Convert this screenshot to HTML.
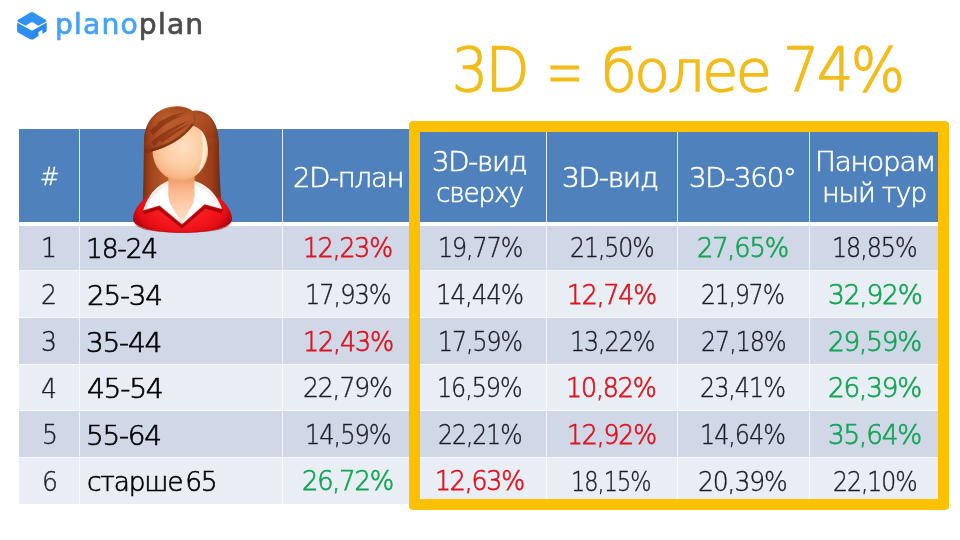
<!DOCTYPE html>
<html lang="ru">
<head>
<meta charset="utf-8">
<title>planoplan — 3D = более 74%</title>
<style>
html,body{margin:0;padding:0;background:#fff;}
body{width:960px;height:540px;position:relative;overflow:hidden;font-family:"DejaVu Sans Light", "DejaVu Sans", "Liberation Sans", sans-serif;font-weight:200;}
.abs{position:absolute;}
.cell{position:absolute;}
.h{background:#4f81bd;}
.r1{background:#d0d8e8;}
.r2{background:#e9edf4;}
.ln{background:#fff;}
.tx{position:absolute;white-space:nowrap;transform-origin:0 0;font-family:"DejaVu Sans Light", "DejaVu Sans", "Liberation Sans", sans-serif;font-weight:200;line-height:1;margin:0;}
#frame{position:absolute;left:409px;top:121px;width:540px;height:389px;box-sizing:border-box;border:11px solid #ffc000;border-radius:4px;}
</style>
</head>
<body>
<svg class="abs" style="left:0;top:0" width="220" height="50" viewBox="0 0 220 50">
  <g>
    <!-- top face -->
    <path d="M30.3 12.5 Q31.9 11.6 33.5 12.5 L45.7 19.7 Q47.2 20.8 45.7 21.9 L38.3 25.8 L33.2 22.6 Q32 21.9 30.8 22.6 L25.7 25.8 L18.1 21.9 Q16.6 20.8 18.1 19.7 Z" fill="#2f92f2"/>
    <!-- left face -->
    <path d="M17.1 22.5 L32 30.7 L32 39.6 Q31 39.7 30 39.2 L18.1 32.6 Q17.1 32 17.1 30.8 Z" fill="#2e8eee"/>
    <!-- right face -->
    <path d="M31.9 30.7 L46.7 22.5 L46.7 30.6 Q46.7 31.4 46 31.8 L42.3 33.8 L42.3 29.8 L38.5 31.9 L38.5 35.9 L33.8 38.9 Q32.6 39.6 31.9 39.6 Z" fill="#2b89ea"/>
  </g>
  <text x="55" y="34.2" font-family="'DejaVu Sans', 'Liberation Sans', sans-serif" font-weight="400" font-size="28.2" fill="#45a3f5" stroke="#45a3f5" stroke-width="0.7" letter-spacing="1.15">plano<tspan fill="#4b4b4b" stroke="#4b4b4b">plan</tspan></text>
</svg>
<h1 id="title" style="margin:0;font-weight:200">
<span class="tx" style="left:451.50px;top:41.04px;font-size:59.7px;color:#f2bc1c;transform:scaleX(0.9500);-webkit-text-stroke:1.5px #f2bc1c;letter-spacing:-2.5px;">3D</span>
<span class="tx" style="left:546.18px;top:34.10px;font-size:76px;color:#f2bc1c;transform:scaleX(0.5910);-webkit-text-stroke:0.9px #f2bc1c;">=</span>
<span class="tx" style="left:601.27px;top:42.91px;font-size:57.5px;color:#f2bc1c;transform:scaleX(1.0166);-webkit-text-stroke:1.5px #f2bc1c;letter-spacing:-2.5px;">более</span>
<span class="tx" style="left:783.49px;top:41.04px;font-size:59.7px;color:#f2bc1c;transform:scaleX(0.9560);-webkit-text-stroke:1.5px #f2bc1c;letter-spacing:-2.5px;">74%</span>
</h1>
<div id="table-bg">
<div class="cell h" style="left:19.3px;top:129px;width:921.7px;height:93px"></div>
<div class="cell r1" style="left:19.3px;top:226px;width:921.7px;height:44.5px"></div>
<div class="cell r2" style="left:19.3px;top:270.5px;width:921.7px;height:47px"></div>
<div class="cell r1" style="left:19.3px;top:317.5px;width:921.7px;height:46.5px"></div>
<div class="cell r2" style="left:19.3px;top:364px;width:921.7px;height:46.5px"></div>
<div class="cell r1" style="left:19.3px;top:410.5px;width:921.7px;height:46.5px"></div>
<div class="cell r2" style="left:19.3px;top:457px;width:921.7px;height:46.5px"></div>
<div class="cell ln" style="left:19.3px;top:270px;width:921.7px;height:1px;opacity:.7"></div>
<div class="cell ln" style="left:19.3px;top:317px;width:921.7px;height:1px;opacity:.7"></div>
<div class="cell ln" style="left:19.3px;top:363.5px;width:921.7px;height:1px;opacity:.7"></div>
<div class="cell ln" style="left:19.3px;top:410px;width:921.7px;height:1px;opacity:.7"></div>
<div class="cell ln" style="left:19.3px;top:456.5px;width:921.7px;height:1px;opacity:.7"></div>
<div class="cell ln" style="left:79px;top:129px;width:1px;height:93px;opacity:.85"></div>
<div class="cell ln" style="left:79px;top:226px;width:1px;height:277.5px;opacity:.7"></div>
<div class="cell ln" style="left:282px;top:129px;width:1px;height:93px;opacity:.85"></div>
<div class="cell ln" style="left:282px;top:226px;width:1px;height:277.5px;opacity:.7"></div>
<div class="cell ln" style="left:414px;top:129px;width:1px;height:93px;opacity:.85"></div>
<div class="cell ln" style="left:414px;top:226px;width:1px;height:277.5px;opacity:.7"></div>
<div class="cell ln" style="left:546px;top:129px;width:1px;height:93px;opacity:.85"></div>
<div class="cell ln" style="left:546px;top:226px;width:1px;height:277.5px;opacity:.7"></div>
<div class="cell ln" style="left:677px;top:129px;width:1px;height:93px;opacity:.85"></div>
<div class="cell ln" style="left:677px;top:226px;width:1px;height:277.5px;opacity:.7"></div>
<div class="cell ln" style="left:809px;top:129px;width:1px;height:93px;opacity:.85"></div>
<div class="cell ln" style="left:809px;top:226px;width:1px;height:277.5px;opacity:.7"></div>
</div>
<div id="grid" role="table">
<div role="row">
<div role="columnheader">
<span class="tx" style="left:39.55px;top:163.88px;font-size:25px;color:#fff;transform:scaleX(0.9352);-webkit-text-stroke:0.35px #fff;">#</span>
</div>
<div role="columnheader">
</div>
<div role="columnheader">
<span class="tx" style="left:293.44px;top:163.59px;font-size:27.2px;color:#fff;transform:scaleX(1.0093);-webkit-text-stroke:0.6px #fff;letter-spacing:-1.2px;">2D-план</span>
</div>
<div role="columnheader">
<span class="tx" style="left:432.32px;top:147.59px;font-size:27.2px;color:#fff;transform:scaleX(1.0143);-webkit-text-stroke:0.6px #fff;letter-spacing:-1.2px;">3D-вид</span>
<span class="tx" style="left:436.47px;top:179.39px;font-size:27.2px;color:#fff;transform:scaleX(0.9663);-webkit-text-stroke:0.6px #fff;letter-spacing:-1.2px;">сверху</span>
</div>
<div role="columnheader">
<span class="tx" style="left:562.36px;top:163.59px;font-size:27.2px;color:#fff;transform:scaleX(1.0281);-webkit-text-stroke:0.6px #fff;letter-spacing:-1.2px;">3D-вид</span>
</div>
<div role="columnheader">
<span class="tx" style="left:689.37px;top:163.59px;font-size:27.2px;color:#fff;transform:scaleX(1.0130);-webkit-text-stroke:0.6px #fff;letter-spacing:-1.2px;">3D-360°</span>
</div>
<div role="columnheader">
<span class="tx" style="left:815.24px;top:148.09px;font-size:27.2px;color:#fff;transform:scaleX(1.0210);-webkit-text-stroke:0.6px #fff;letter-spacing:-1.2px;">Панорам</span>
<span class="tx" style="left:822.39px;top:179.19px;font-size:27.2px;color:#fff;transform:scaleX(0.9924);-webkit-text-stroke:0.6px #fff;letter-spacing:-1.2px;">ный тур</span>
</div>
</div>
<div role="row">
<div role="cell" class="tx" style="left:40.75px;top:234.26px;font-size:27px;color:#1c1c27;transform:scaleX(0.9300);-webkit-text-stroke:0.4px #1c1c27;">1</div>
<div role="cell" class="tx" style="left:86.44px;top:234.73px;font-size:27px;color:#000;transform:scaleX(0.9799);-webkit-text-stroke:0.65px #000;letter-spacing:-1.2px;">18-24</div>
<div role="cell" class="tx" style="left:302.54px;top:233.68px;font-size:27px;color:#de1521;transform:scaleX(0.9283);-webkit-text-stroke:0.75px #de1521;letter-spacing:-1.2px;">12,23%</div>
<div role="cell" class="tx" style="left:437.65px;top:233.86px;font-size:27px;color:#1c1c27;transform:scaleX(0.8793);-webkit-text-stroke:0.4px #1c1c27;letter-spacing:-1.2px;">19,77%</div>
<div role="cell" class="tx" style="left:569.56px;top:233.86px;font-size:27px;color:#1c1c27;transform:scaleX(0.8732);-webkit-text-stroke:0.4px #1c1c27;letter-spacing:-1.2px;">21,50%</div>
<div role="cell" class="tx" style="left:696.50px;top:233.68px;font-size:27px;color:#14a556;transform:scaleX(0.9500);-webkit-text-stroke:0.75px #14a556;letter-spacing:-1.2px;">27,65%</div>
<div role="cell" class="tx" style="left:831.61px;top:233.86px;font-size:27px;color:#1c1c27;transform:scaleX(0.8830);-webkit-text-stroke:0.4px #1c1c27;letter-spacing:-1.2px;">18,85%</div>
</div>
<div role="row">
<div role="cell" class="tx" style="left:41.00px;top:281.26px;font-size:27px;color:#1c1c27;transform:scaleX(0.9300);-webkit-text-stroke:0.4px #1c1c27;">2</div>
<div role="cell" class="tx" style="left:87.37px;top:281.73px;font-size:27px;color:#000;transform:scaleX(1.0305);-webkit-text-stroke:0.65px #000;letter-spacing:-1.2px;">25-34</div>
<div role="cell" class="tx" style="left:304.64px;top:280.86px;font-size:27px;color:#1c1c27;transform:scaleX(0.8931);-webkit-text-stroke:0.4px #1c1c27;letter-spacing:-1.2px;">17,93%</div>
<div role="cell" class="tx" style="left:435.59px;top:280.86px;font-size:27px;color:#1c1c27;transform:scaleX(0.9073);-webkit-text-stroke:0.4px #1c1c27;letter-spacing:-1.2px;">14,44%</div>
<div role="cell" class="tx" style="left:566.53px;top:280.68px;font-size:27px;color:#de1521;transform:scaleX(0.9283);-webkit-text-stroke:0.75px #de1521;letter-spacing:-1.2px;">12,74%</div>
<div role="cell" class="tx" style="left:700.63px;top:280.86px;font-size:27px;color:#1c1c27;transform:scaleX(0.8653);-webkit-text-stroke:0.4px #1c1c27;letter-spacing:-1.2px;">21,97%</div>
<div role="cell" class="tx" style="left:828.46px;top:280.68px;font-size:27px;color:#14a556;transform:scaleX(0.9784);-webkit-text-stroke:0.75px #14a556;letter-spacing:-1.2px;">32,92%</div>
</div>
<div role="row">
<div role="cell" class="tx" style="left:40.50px;top:328.26px;font-size:27px;color:#1c1c27;transform:scaleX(0.9300);-webkit-text-stroke:0.4px #1c1c27;">3</div>
<div role="cell" class="tx" style="left:86.43px;top:328.73px;font-size:27px;color:#000;transform:scaleX(1.0351);-webkit-text-stroke:0.65px #000;letter-spacing:-1.2px;">35-44</div>
<div role="cell" class="tx" style="left:302.52px;top:327.68px;font-size:27px;color:#de1521;transform:scaleX(0.9393);-webkit-text-stroke:0.75px #de1521;letter-spacing:-1.2px;">12,43%</div>
<div role="cell" class="tx" style="left:437.68px;top:327.86px;font-size:27px;color:#1c1c27;transform:scaleX(0.8753);-webkit-text-stroke:0.4px #1c1c27;letter-spacing:-1.2px;">17,59%</div>
<div role="cell" class="tx" style="left:569.68px;top:327.86px;font-size:27px;color:#1c1c27;transform:scaleX(0.8793);-webkit-text-stroke:0.4px #1c1c27;letter-spacing:-1.2px;">13,22%</div>
<div role="cell" class="tx" style="left:700.59px;top:327.86px;font-size:27px;color:#1c1c27;transform:scaleX(0.8832);-webkit-text-stroke:0.4px #1c1c27;letter-spacing:-1.2px;">27,18%</div>
<div role="cell" class="tx" style="left:828.47px;top:327.68px;font-size:27px;color:#14a556;transform:scaleX(0.9711);-webkit-text-stroke:0.75px #14a556;letter-spacing:-1.2px;">29,59%</div>
</div>
<div role="row">
<div role="cell" class="tx" style="left:41.00px;top:374.86px;font-size:27px;color:#1c1c27;transform:scaleX(0.9300);-webkit-text-stroke:0.4px #1c1c27;">4</div>
<div role="cell" class="tx" style="left:87.35px;top:375.33px;font-size:27px;color:#000;transform:scaleX(1.0403);-webkit-text-stroke:0.65px #000;letter-spacing:-1.2px;">45-54</div>
<div role="cell" class="tx" style="left:302.51px;top:374.46px;font-size:27px;color:#1c1c27;transform:scaleX(0.9260);-webkit-text-stroke:0.4px #1c1c27;letter-spacing:-1.2px;">22,79%</div>
<div role="cell" class="tx" style="left:436.61px;top:374.46px;font-size:27px;color:#1c1c27;transform:scaleX(0.8830);-webkit-text-stroke:0.4px #1c1c27;letter-spacing:-1.2px;">16,59%</div>
<div role="cell" class="tx" style="left:565.54px;top:374.28px;font-size:27px;color:#de1521;transform:scaleX(0.9364);-webkit-text-stroke:0.75px #de1521;letter-spacing:-1.2px;">10,82%</div>
<div role="cell" class="tx" style="left:699.54px;top:374.46px;font-size:27px;color:#1c1c27;transform:scaleX(0.8864);-webkit-text-stroke:0.4px #1c1c27;letter-spacing:-1.2px;">23,41%</div>
<div role="cell" class="tx" style="left:828.47px;top:374.28px;font-size:27px;color:#14a556;transform:scaleX(0.9711);-webkit-text-stroke:0.75px #14a556;letter-spacing:-1.2px;">26,39%</div>
</div>
<div role="row">
<div role="cell" class="tx" style="left:41.88px;top:421.26px;font-size:27px;color:#1c1c27;transform:scaleX(0.9300);-webkit-text-stroke:0.4px #1c1c27;">5</div>
<div role="cell" class="tx" style="left:86.36px;top:421.73px;font-size:27px;color:#000;transform:scaleX(1.0325);-webkit-text-stroke:0.65px #000;letter-spacing:-1.2px;">55-64</div>
<div role="cell" class="tx" style="left:304.64px;top:420.86px;font-size:27px;color:#1c1c27;transform:scaleX(0.8931);-webkit-text-stroke:0.4px #1c1c27;letter-spacing:-1.2px;">14,59%</div>
<div role="cell" class="tx" style="left:437.55px;top:420.86px;font-size:27px;color:#1c1c27;transform:scaleX(0.8732);-webkit-text-stroke:0.4px #1c1c27;letter-spacing:-1.2px;">22,21%</div>
<div role="cell" class="tx" style="left:566.53px;top:420.68px;font-size:27px;color:#de1521;transform:scaleX(0.9283);-webkit-text-stroke:0.75px #de1521;letter-spacing:-1.2px;">12,92%</div>
<div role="cell" class="tx" style="left:699.67px;top:420.86px;font-size:27px;color:#1c1c27;transform:scaleX(0.8860);-webkit-text-stroke:0.4px #1c1c27;letter-spacing:-1.2px;">14,64%</div>
<div role="cell" class="tx" style="left:828.47px;top:420.68px;font-size:27px;color:#14a556;transform:scaleX(0.9709);-webkit-text-stroke:0.75px #14a556;letter-spacing:-1.2px;">35,64%</div>
</div>
<div role="row">
<div role="cell" class="tx" style="left:41.88px;top:467.96px;font-size:27px;color:#1c1c27;transform:scaleX(0.9300);-webkit-text-stroke:0.4px #1c1c27;">6</div>
<div role="cell" class="tx" style="left:87.45px;top:468.43px;font-size:27px;color:#000;transform:scaleX(0.9782);-webkit-text-stroke:0.65px #000;letter-spacing:-1.2px;word-spacing:-4.5px;">старше 65</div>
<div role="cell" class="tx" style="left:301.50px;top:467.38px;font-size:27px;color:#14a556;transform:scaleX(0.9500);-webkit-text-stroke:0.75px #14a556;letter-spacing:-1.2px;">26,72%</div>
<div role="cell" class="tx" style="left:434.55px;top:467.38px;font-size:27px;color:#de1521;transform:scaleX(0.9283);-webkit-text-stroke:0.75px #de1521;letter-spacing:-1.2px;">12,63%</div>
<div role="cell" class="tx" style="left:570.77px;top:467.56px;font-size:27px;color:#1c1c27;transform:scaleX(0.8297);-webkit-text-stroke:0.4px #1c1c27;letter-spacing:-1.2px;">18,15%</div>
<div role="cell" class="tx" style="left:697.51px;top:467.56px;font-size:27px;color:#1c1c27;transform:scaleX(0.9260);-webkit-text-stroke:0.4px #1c1c27;letter-spacing:-1.2px;">20,39%</div>
<div role="cell" class="tx" style="left:832.55px;top:467.56px;font-size:27px;color:#1c1c27;transform:scaleX(0.8732);-webkit-text-stroke:0.4px #1c1c27;letter-spacing:-1.2px;">22,10%</div>
</div>
</div>
<div id="frame"></div>
<svg class="abs" style="left:120px;top:95px" width="125" height="145" viewBox="120 95 125 145">
  <defs>
    <linearGradient id="hairSide" gradientUnits="userSpaceOnUse" x1="143" y1="0" x2="221" y2="0">
      <stop offset="0" stop-color="#7e2d10"/>
      <stop offset="0.1" stop-color="#a2441b"/>
      <stop offset="0.3" stop-color="#bb5b2b"/>
      <stop offset="0.6" stop-color="#b05124"/>
      <stop offset="0.88" stop-color="#9a3e18"/>
      <stop offset="1" stop-color="#76280d"/>
    </linearGradient>
    <linearGradient id="hairTop" gradientUnits="userSpaceOnUse" x1="0" y1="106" x2="0" y2="150">
      <stop offset="0" stop-color="#8a3414" stop-opacity=".55"/>
      <stop offset="0.25" stop-color="#c06230" stop-opacity=".35"/>
      <stop offset="0.7" stop-color="#b85a2a" stop-opacity=".0"/>
      <stop offset="1" stop-color="#7a2a10" stop-opacity=".55"/>
    </linearGradient>
    <radialGradient id="face" gradientUnits="userSpaceOnUse" cx="183" cy="147" r="36">
      <stop offset="0" stop-color="#ffdfc0"/>
      <stop offset="0.55" stop-color="#fdcda4"/>
      <stop offset="0.85" stop-color="#f8b788"/>
      <stop offset="1" stop-color="#ea9a64"/>
    </radialGradient>
    <linearGradient id="neck" x1="0" y1="0" x2="0" y2="1">
      <stop offset="0" stop-color="#ee9560"/>
      <stop offset="0.3" stop-color="#fbb88c"/>
      <stop offset="1" stop-color="#ffe6d2"/>
    </linearGradient>
    <radialGradient id="body" gradientUnits="userSpaceOnUse" cx="182.5" cy="207" r="52" gradientTransform="translate(0 207) scale(1 .62) translate(0 -207)">
      <stop offset="0" stop-color="#ff2b2b"/>
      <stop offset="0.6" stop-color="#f3161c"/>
      <stop offset="0.85" stop-color="#e30d15"/>
      <stop offset="1" stop-color="#b3050b"/>
    </radialGradient>
  </defs>
  <!-- hair back -->
  <path id="hairShape" d="M142.6 212 C143.2 190 143.8 165 144 140 C144.8 120 158 106.6 176.5 106.3 C183 106.2 189 108.3 192.8 110.9 C196 110.3 199 110.5 201 111.2 C212 114 218.6 126 218.8 142 C219.2 165 220.2 190 221.8 212 Z" fill="url(#hairSide)"/>
  <!-- body -->
  <path d="M146 197 C138 204 133 212 133 219.5 C133 227.5 155 232.8 182.5 232.8 C210 232.8 232 227.5 232 219.5 C232 212 227 204 219 197 C205 195 160 195 146 197 Z" fill="url(#body)"/>
  <path d="M134.5 224 C142 229.8 162 232 182.5 232 C203 232 223 229.8 230.5 224 C226 230.5 206 232.8 182.5 232.8 C159 232.8 139 230.5 134.5 224 Z" fill="#9c0208" opacity=".55"/>
  <!-- collar shadows on body -->
  <path d="M142.8 211.3 L159.3 206.2 L182 225.2 L204.7 205 L222.6 210 L221.5 213.2 L205.4 208.6 L182 228.6 L158.6 209.8 L144 214.3 Z" fill="#96030a" opacity=".8"/>
  <!-- collar -->
  <path d="M168.3 181 Q150.5 187.5 143.3 210.3 L159.5 205.5 L181.8 224 L182 200 Z" fill="#fff"/>
  <path d="M194.6 181 Q214 187 222 209 L204.5 204.3 L182.2 224 L182 200 Z" fill="#fff"/>
  <path d="M168.3 181 Q150.5 187.5 143.3 210.3 L146 209.5 Q153 192 168.4 185 Z" fill="#e6d6d0" opacity=".45"/>
  <path d="M194.6 181 Q214 187 222 209 L219.2 208.3 Q211.5 191.5 194.6 185 Z" fill="#e6d6d0" opacity=".45"/>
  <!-- neck -->
  <path d="M168.3 176 L194.6 176 L194.6 196 L193.2 203 L182 224 L169.6 203 L168.3 196 Z" fill="url(#neck)"/>
  <!-- face -->
  <ellipse cx="180.3" cy="149.7" rx="27.9" ry="31.2" fill="url(#face)"/>
  <path d="M200.5 129 C209.5 142 209.6 160 197 174.5 C203 161 204.6 145 200.5 129 Z" fill="#fff0d8" opacity=".9"/>
  <!-- fringe -->
  <path d="M144 152 C144 122 160 108 178 107.3 C186 107.3 191 110 193 113 C197 111.5 202 112 206 115 C213 120 217.6 130 218.6 142 L218.9 172 L206 168 C209 158 209 146 205.5 137 C203 131 199 128 193 125.8 C182 140 168 147 152.6 151.2 C150 153 147 154 144 152 Z" fill="url(#hairSide)"/>
  <path d="M144 152 C144 122 160 108 178 107.3 C186 107.3 191 110 193 113 C197 111.5 202 112 206 115 C213 120 217.6 130 218.6 142 L209 150 C208.6 144 207.5 140 205.5 137 C203 131 199 128 193 125.8 C182 140 168 147 152.6 151.2 C150 153 147 154 144 152 Z" fill="url(#hairTop)"/>
  <path d="M150 131 C160 121 172 116.5 184 115 C172 119.5 162 125.5 153 135.5 Z M151 142 C162 132 174 126.5 188 121 C177 128.5 166 134.5 154 146 Z M157 123.5 C165 117.5 175 113.5 186 112.5 C176 115.5 167 119.5 159.5 125.5 Z M160 140 C170 133 180 128 190 123.5 C181 130 171 136 161.5 143 Z" fill="#7a2a0e" opacity=".6"/>
  <path d="M192.4 124.8 C181.4 139 167.4 146 152 150.2" fill="none" stroke="#6a220a" stroke-width="2.6" stroke-linecap="round" opacity=".55"/>
  <path d="M193 113 C194.5 117 194.5 121.5 193 125.8 C195.5 121.5 195.8 116.5 193 113 Z" fill="#7a2a0e" opacity=".5"/>
</svg>
</body>
</html>
